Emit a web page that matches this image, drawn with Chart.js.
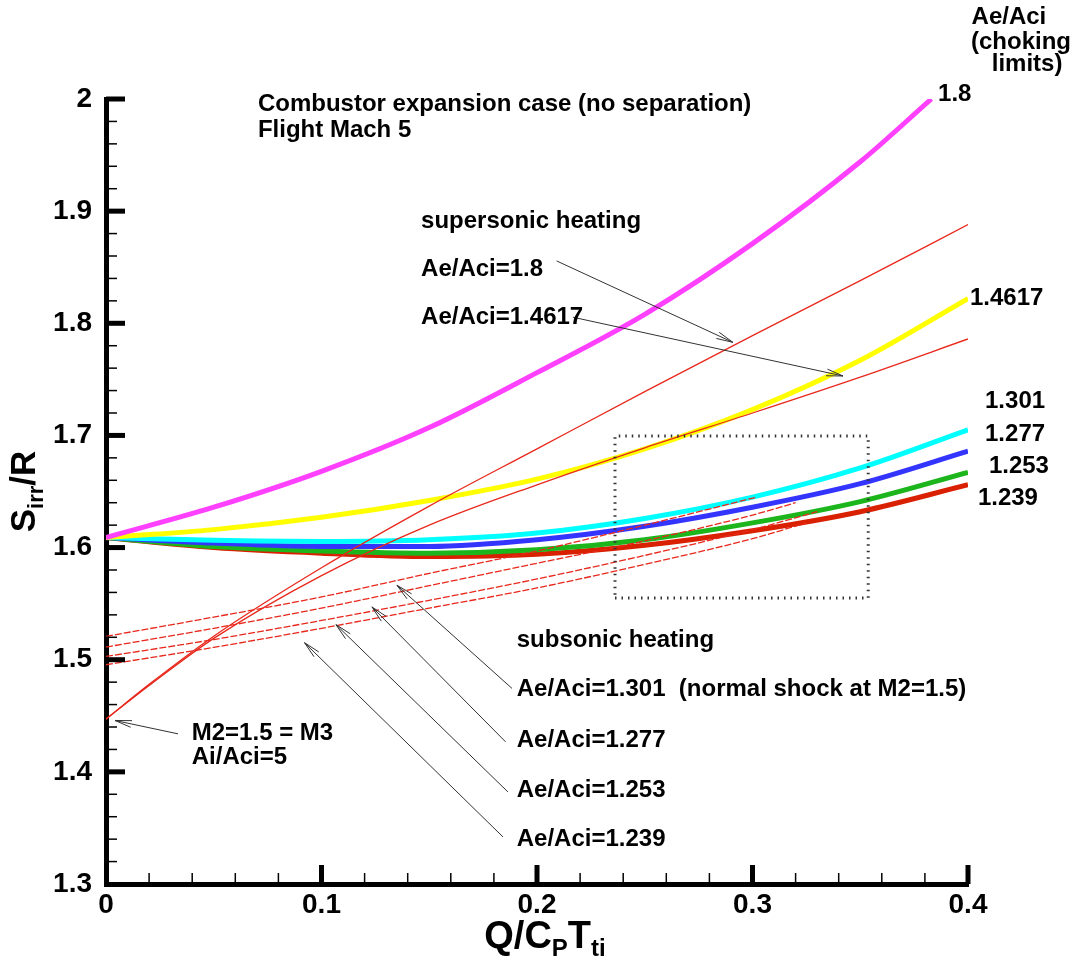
<!DOCTYPE html>
<html>
<head>
<meta charset="utf-8">
<title>Combustor expansion case (no separation)</title>
<script src="https://cdn.jsdelivr.net/npm/chart.js@4.4.0/dist/chart.umd.min.js"></script>
<style>
  html, body { margin: 0; padding: 0; background: #fff; }
  canvas { display: block; }
</style>
</head>
<body>
<canvas id="entropyChart" width="1075" height="966"></canvas>
<script>
'use strict';

// Tick labels
const xTicks = [0, 0.1, 0.2, 0.3, 0.4];
const yTicks = [1.3, 1.4, 1.5, 1.6, 1.7, 1.8, 1.9, 2];

// Thick curves: choking limits (Q/CpTti -> Sirr/R)
const qGrid = [0, 0.05, 0.1, 0.15, 0.2, 0.25, 0.3, 0.35, 0.4];
const qLimit18 = [0, 0.05, 0.1, 0.15, 0.2, 0.25, 0.3, 0.35, 0.383];
const limit1800 = [1.609, 1.636, 1.668, 1.707, 1.756, 1.808, 1.871, 1.944, 2.0];
const limit1462 = [1.609, 1.616, 1.627, 1.642, 1.661, 1.688, 1.723, 1.767, 1.822];
const limit1301 = [1.609, 1.6065, 1.6055, 1.607, 1.613, 1.626, 1.645, 1.671, 1.705];
const limit1277 = [1.609, 1.604, 1.601, 1.601, 1.607, 1.619, 1.636, 1.657, 1.686];
const limit1253 = [1.609, 1.601, 1.597, 1.595, 1.598, 1.607, 1.622, 1.641, 1.667];
const limit1239 = [1.609, 1.600, 1.595, 1.592, 1.594, 1.602, 1.615, 1.632, 1.656];

// Thin lines: supersonic heating
const qSuper = [0, 0.02, 0.05, 0.1, 0.15, 0.2, 0.25, 0.3, 0.35, 0.4];
const super1800 = [1.447, 1.478, 1.521, 1.582, 1.637, 1.688, 1.739, 1.789, 1.838, 1.888];
const super1462 = [1.447, 1.477, 1.519, 1.575, 1.620, 1.656, 1.689, 1.720, 1.752, 1.786];

// Thin lines: subsonic heating
const qSub1301 = [0, 0.05, 0.1, 0.15, 0.2, 0.25, 0.302];
const sub1301 = [1.5208, 1.538, 1.556, 1.577, 1.597, 1.620, 1.645];
const qSub1277 = [0, 0.05, 0.1, 0.15, 0.2, 0.25, 0.3, 0.32];
const sub1277 = [1.5113, 1.528, 1.546, 1.566, 1.586, 1.606, 1.629, 1.640];
const qSub1253 = [0, 0.05, 0.1, 0.15, 0.2, 0.25, 0.3, 0.33];
const sub1253 = [1.5029, 1.518, 1.535, 1.553, 1.572, 1.593, 1.616, 1.632];
const qSub1239 = [0, 0.05, 0.1, 0.15, 0.2, 0.25, 0.3, 0.325];
const sub1239 = [1.4955, 1.511, 1.528, 1.546, 1.564, 1.585, 1.608, 1.622];

// Dotted zoom box
const boxQ = [0.2362, 0.3537, 0.3537, 0.2362, 0.2362];
const boxS = [1.5551, 1.5551, 1.6994, 1.6994, 1.5551];

(function () {
    // Color Variables
    const magentaColor = '#ff40ff',
        yellowColor = '#ffff00',
        cyanColor = '#00ffff',
        blueColor = '#3434ff',
        greenColor = '#1cb51c',
        redColor = '#d92000',
        thinRedColor = '#e8281c',
        arrowColor = '#333333';

    const fontFamily = "'Liberation Sans', Arial, sans-serif";
    const textFont = 'bold 24px ' + fontFamily;

    function pts(xs, ys) {
        return xs.map(function (x, i) {
            return { x: x, y: ys[i] };
        });
    }

    function thick(label, xs, ys, color) {
        return {
            label: label,
            data: pts(xs, ys),
            borderColor: color,
            borderWidth: 5,
            pointRadius: 0,
            cubicInterpolationMode: 'monotone',
            order: 2
        };
    }

    function thin(label, xs, ys, dash) {
        return {
            label: label,
            data: pts(xs, ys),
            borderColor: thinRedColor,
            borderWidth: 1.3,
            borderDash: dash,
            pointRadius: 0,
            cubicInterpolationMode: 'monotone',
            order: 1
        };
    }

    // Annotations (positions in data units)
    // --------------------------------------------------------------------
    const labels = [
        { t: 'Combustor expansion case (no separation)', x: 0.0705, y: 1.9897 },
        { t: 'Flight Mach 5', x: 0.0705, y: 1.9665 },
        { t: 'supersonic heating', x: 0.1462, y: 1.8848 },
        { t: 'Ae/Aci=1.8', x: 0.1462, y: 1.8422 },
        { t: 'Ae/Aci=1.4617', x: 0.1462, y: 1.7991 },
        { t: 'subsonic heating', x: 0.1906, y: 1.5113 },
        { t: 'Ae/Aci=1.301  (normal shock at M2=1.5)', x: 0.1906, y: 1.4672 },
        { t: 'Ae/Aci=1.277', x: 0.1906, y: 1.4226 },
        { t: 'Ae/Aci=1.253', x: 0.1906, y: 1.378 },
        { t: 'Ae/Aci=1.239', x: 0.1906, y: 1.3339 },
        { t: 'M2=1.5 = M3', x: 0.0398, y: 1.4286 },
        { t: 'Ai/Aci=5', x: 0.0398, y: 1.4071 },
        { t: 'Ae/Aci', x: 0.4190, y: 2.0670, align: 'center' },
        { t: '(choking', x: 0.4246, y: 2.0446, align: 'center' },
        { t: 'limits)', x: 0.4274, y: 2.0250, align: 'center' },
        { t: '1.8', x: 0.3861, y: 1.9982 },
        { t: '1.4617', x: 0.4009, y: 1.8161 },
        { t: '1.301', x: 0.4079, y: 1.7241 },
        { t: '1.277', x: 0.4079, y: 1.6946 },
        { t: '1.253', x: 0.4097, y: 1.6661 },
        { t: '1.239', x: 0.4046, y: 1.6384 }
    ];

    const arrows = [
        { from: [0.2091, 1.8556], to: [0.2909, 1.7830] },
        { from: [0.2167, 1.8054], to: [0.3420, 1.7530] },
        { from: [0.0334, 1.4339], to: [0.0042, 1.4458] },
        { from: [0.1884, 1.4744], to: [0.1350, 1.5664] },
        { from: [0.1854, 1.4268], to: [0.1234, 1.5471] },
        { from: [0.1865, 1.3821], to: [0.1067, 1.5313] },
        { from: [0.1842, 1.3420], to: [0.0921, 1.5152] }
    ];

    function tick(ctx, x0, y0, dx, dy, w) {
        ctx.lineWidth = w;
        ctx.beginPath();
        ctx.moveTo(x0, y0);
        ctx.lineTo(x0 + dx, y0 + dy);
        ctx.stroke();
    }

    function drawRich(ctx, parts, x, y) {
        let total = 0;
        parts.forEach(function (p) {
            ctx.font = 'bold ' + p.size + 'px ' + fontFamily;
            p.w = ctx.measureText(p.t).width;
            total += p.w;
        });
        let cx = x - total / 2;
        parts.forEach(function (p) {
            ctx.font = 'bold ' + p.size + 'px ' + fontFamily;
            ctx.fillText(p.t, cx, y + (p.dy || 0));
            cx += p.w;
        });
    }

    // Inward ticks, annotations, arrows and axis titles
    // --------------------------------------------------------------------
    const decorPlugin = {
        id: 'decor',
        beforeDraw(chart) {
            const ctx = chart.ctx;
            ctx.save();
            ctx.fillStyle = '#ffffff';
            ctx.fillRect(0, 0, chart.width, chart.height);
            ctx.restore();
        },
        afterDraw(chart) {
            const { ctx, chartArea: a, scales: { x, y } } = chart;
            ctx.save();
            ctx.strokeStyle = '#000';
            ctx.lineCap = 'butt';

            for (let i = 0; i < yTicks.length; i++) {
                if (i > 0) tick(ctx, a.left, y.getPixelForValue(yTicks[i]), 19, 0, 5);
                if (i < yTicks.length - 1) {
                    for (let k = 1; k < 5; k++) {
                        const v = yTicks[i] + (yTicks[i + 1] - yTicks[i]) * k / 5;
                        tick(ctx, a.left, y.getPixelForValue(v), 11, 0, 1.5);
                    }
                }
            }
            for (let i = 0; i < xTicks.length; i++) {
                if (i > 0) tick(ctx, x.getPixelForValue(xTicks[i]), a.bottom, 0, -19, 5);
                if (i < xTicks.length - 1) {
                    for (let k = 1; k < 5; k++) {
                        const v = xTicks[i] + (xTicks[i + 1] - xTicks[i]) * k / 5;
                        tick(ctx, x.getPixelForValue(v), a.bottom, 0, -11, 1.5);
                    }
                }
            }

            // arrows
            ctx.strokeStyle = arrowColor;
            ctx.lineWidth = 1;
            arrows.forEach(function (ar) {
                const x0 = x.getPixelForValue(ar.from[0]), y0 = y.getPixelForValue(ar.from[1]);
                const x1 = x.getPixelForValue(ar.to[0]), y1 = y.getPixelForValue(ar.to[1]);
                const ang = Math.atan2(y1 - y0, x1 - x0);
                ctx.beginPath();
                ctx.moveTo(x0, y0);
                ctx.lineTo(x1, y1);
                [0.2, -0.2].forEach(function (d) {
                    ctx.moveTo(x1, y1);
                    ctx.lineTo(x1 - 17 * Math.cos(ang + d), y1 - 17 * Math.sin(ang + d));
                });
                ctx.stroke();
            });

            // labels
            ctx.fillStyle = '#000';
            ctx.font = textFont;
            ctx.textBaseline = 'alphabetic';
            labels.forEach(function (l) {
                ctx.textAlign = l.align || 'left';
                ctx.fillText(l.t, x.getPixelForValue(l.x), y.getPixelForValue(l.y));
            });

            // axis titles
            ctx.textAlign = 'left';
            drawRich(ctx, [
                { t: 'Q/C', size: 38 },
                { t: 'P', size: 24, dy: 8 },
                { t: 'T', size: 38 },
                { t: 'ti', size: 24, dy: 8 }
            ], (a.left + a.right) / 2 + 8, a.bottom + 64);

            ctx.translate(a.left - 71, (a.top + a.bottom) / 2);
            ctx.rotate(-Math.PI / 2);
            drawRich(ctx, [
                { t: 'S', size: 35 },
                { t: 'irr', size: 22, dy: 8 },
                { t: '/R', size: 35 }
            ], 0, 0);
            ctx.restore();
        }
    };

    // Chart
    // --------------------------------------------------------------------
    const entropyChart = document.getElementById('entropyChart');
    if (entropyChart) {
        const tickFont = { family: fontFamily, size: 28, weight: 'bold' };
        new Chart(entropyChart, {
            type: 'line',
            data: {
                datasets: [
                    {
                        label: 'box',
                        data: pts(boxQ, boxS),
                        borderColor: '#333',
                        borderWidth: 3,
                        borderDash: [1.5, 5],
                        pointRadius: 0,
                        tension: 0,
                        order: 0
                    },
                    thin('super 1.8', qSuper, super1800, []),
                    thin('super 1.4617', qSuper, super1462, []),
                    thin('sub 1.301', qSub1301, sub1301, [7, 2]),
                    thin('sub 1.277', qSub1277, sub1277, [7, 2]),
                    thin('sub 1.253', qSub1253, sub1253, [7, 2]),
                    thin('sub 1.239', qSub1239, sub1239, [7, 2]),
                    thick('1.8', qLimit18, limit1800, magentaColor),
                    thick('1.4617', qGrid, limit1462, yellowColor),
                    thick('1.301', qGrid, limit1301, cyanColor),
                    thick('1.277', qGrid, limit1277, blueColor),
                    thick('1.253', qGrid, limit1253, greenColor),
                    thick('1.239', qGrid, limit1239, redColor)
                ]
            },
            options: {
                responsive: false,
                animation: false,
                devicePixelRatio: 1,
                layout: {
                    padding: { left: 0, right: 107, top: 99, bottom: 0 }
                },
                plugins: {
                    legend: { display: false },
                    tooltip: { enabled: false }
                },
                scales: {
                    x: {
                        type: 'linear',
                        min: 0,
                        max: 0.4,
                        afterBuildTicks: function (scale) {
                            scale.ticks = xTicks.map(function (v) { return { value: v }; });
                        },
                        afterFit: function (scale) { scale.height = 82; },
                        grid: { display: false, drawTicks: false },
                        border: { display: true, color: '#000', width: 5 },
                        ticks: {
                            autoSkip: false,
                            maxRotation: 0,
                            padding: 4,
                            color: '#000',
                            font: tickFont,
                            callback: function (v) { return String(v); }
                        }
                    },
                    y: {
                        type: 'linear',
                        min: 1.3,
                        max: 2,
                        afterBuildTicks: function (scale) {
                            scale.ticks = yTicks.map(function (v) { return { value: v }; });
                        },
                        afterFit: function (scale) { scale.width = 106; },
                        grid: { display: false, drawTicks: false },
                        border: { display: true, color: '#000', width: 5 },
                        ticks: {
                            autoSkip: false,
                            padding: 14,
                            color: '#000',
                            font: tickFont,
                            callback: function (v) { return String(v); }
                        }
                    }
                }
            },
            plugins: [decorPlugin]
        });
    }
})();
</script>
</body>
</html>
